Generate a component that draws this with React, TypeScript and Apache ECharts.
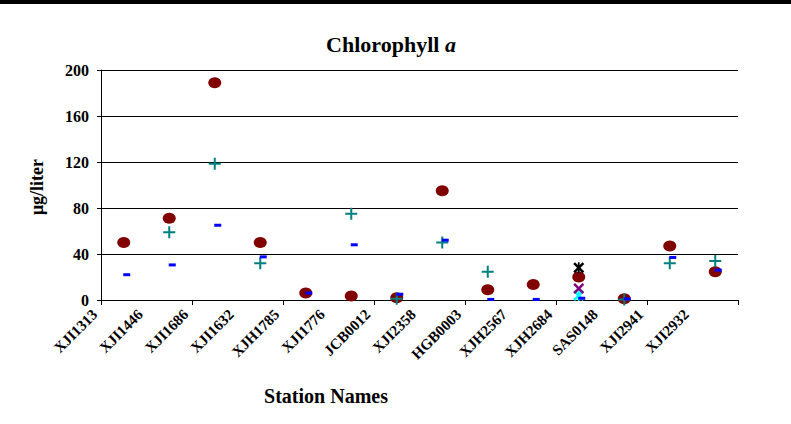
import React, { useEffect, useRef } from "react";
import * as echarts from "echarts";

const stations = ["XJI1313", "XJI1446", "XJI1686", "XJI1632", "XJH1785", "XJI1776", "JCB0012", "XJI2358", "HGB0003", "XJH2567", "XJH2684", "SAS0148", "XJI2941", "XJI2932"];
const circleValues: (number | null)[] = [50, 71, 189, 50, 6, 3.5, 2, 95, 9, 13.5, 20, 1, 47, 24.5];
const plusValues: (number | null)[] = [null, 59, 118.5, 32, null, 75, 1, 50, 24.5, null, null, 0.5, 32, 34];
const dashValues: (number | null)[] = [22, 30.5, 65, 37.5, 6, 48, 5, 52, 0.5, 0.5, 1.5, 1, 37, 26];
const starValues: (number | null)[] = [null, null, null, null, null, null, null, null, null, null, 28, null, null, null];
const xValues: (number | null)[] = [null, null, null, null, null, null, null, null, null, null, 10, null, null, null];
const cyanValues: (number | null)[] = [null, null, null, null, null, null, null, null, null, null, 4, null, null, null];
const yTicks = [0, 40, 80, 120, 160, 200];

const toPairs = (vals: (number | null)[]) =>
  vals.map((v, i) => (v == null ? null : [stations[i], v])).filter((d) => d !== null);

const PLUS = "path://M5,0H7V5H12V7H7V12H5V7H0V5H5Z";
const XMARK = "path://M0,1.6L1.6,0L5,3.4L8.4,0L10,1.6L6.6,5L10,8.4L8.4,10L5,6.6L1.6,10L0,8.4L3.4,5Z";
const STAR = "path://M0,1.6L1.6,0L5,3.4L8.4,0L10,1.6L6.6,5L10,8.4L8.4,10L5,6.6L1.6,10L0,8.4L3.4,5Z M4.2,0H5.8V10H4.2Z";

const FONT = "'Liberation Serif', 'Times New Roman', serif";

export default function App() {
  const ref = useRef<HTMLDivElement>(null);
  useEffect(() => {
    const chart = echarts.init(ref.current!, null, { renderer: "svg" });
    chart.setOption({
      animation: false,
      backgroundColor: "#ffffff",
      title: {
        text: "{b|Chlorophyll }{i|a}",
        left: 386,
        top: 28,
        textAlign: "center",
        textStyle: {
          rich: {
            b: { fontFamily: FONT, fontWeight: "bold", fontSize: 22, color: "#000" },
            i: { fontFamily: FONT, fontWeight: "bold", fontStyle: "italic", fontSize: 22, color: "#000" },
          },
        },
      },
      grid: [
        { left: 101, right: 53, top: 70, bottom: 124 },
        { left: 72, right: 82, top: 70, bottom: 124 },
      ],
      xAxis: [
        {
          type: "category",
          gridIndex: 0,
          data: stations,
          boundaryGap: true,
          axisLine: { lineStyle: { color: "#000", width: 1 } },
          axisTick: { show: true, length: 5, lineStyle: { color: "#000" } },
          axisLabel: { show: false },
        },
        {
          type: "category",
          gridIndex: 1,
          data: stations,
          boundaryGap: true,
          axisLine: { show: false },
          axisTick: { show: false },
          axisLabel: {
            rotate: 45,
            interval: 0,
            margin: 12,
            fontFamily: FONT,
            fontWeight: "bold",
            fontSize: 15,
            color: "#000",
          },
        },
      ],
      yAxis: [
        {
          type: "value",
          gridIndex: 0,
          min: yTicks[0],
          max: yTicks[yTicks.length - 1],
          interval: 40,
          axisLine: { show: true, lineStyle: { color: "#000" } },
          axisTick: { show: true, length: 4, lineStyle: { color: "#000" } },
          splitLine: { show: true, lineStyle: { color: "#000", width: 1 } },
          axisLabel: { margin: 12, fontFamily: FONT, fontWeight: "bold", fontSize: 16, color: "#000" },
        },
        { type: "value", gridIndex: 1, show: false, min: 0, max: 200 },
      ],
      graphic: [
        { type: "rect", left: 0, top: 0, shape: { width: 791, height: 4 }, style: { fill: "#000" } },
        {
          type: "text",
          x: 326,
          y: 396,
          style: {
            text: "Station Names",
            fontFamily: FONT,
            fontWeight: "bold",
            fontSize: 20,
            fill: "#000",
            align: "center",
            verticalAlign: "middle",
          },
        },
        {
          type: "text",
          x: 37,
          y: 187,
          rotation: Math.PI / 2,
          style: {
            text: "μg/liter",
            fontFamily: FONT,
            fontWeight: "bold",
            fontSize: 18,
            fill: "#000",
            align: "center",
            verticalAlign: "middle",
          },
        },
      ],
      series: [
        {
          type: "scatter",
          name: "circle",
          xAxisIndex: 0,
          yAxisIndex: 0,
          symbol: "circle",
          symbolSize: [13, 11],
          itemStyle: { color: "#800000", opacity: 1 },
          data: toPairs(circleValues),
        },
        {
          type: "scatter",
          name: "plus",
          xAxisIndex: 0,
          yAxisIndex: 0,
          symbol: PLUS,
          symbolSize: 12,
          itemStyle: { color: "#008080", opacity: 1 },
          data: toPairs(plusValues),
        },
        {
          type: "scatter",
          name: "cyan",
          xAxisIndex: 0,
          yAxisIndex: 0,
          symbol: STAR,
          symbolSize: 11,
          itemStyle: { color: "#00FFFF", opacity: 1 },
          data: toPairs(cyanValues),
        },
        {
          type: "scatter",
          name: "xmark",
          xAxisIndex: 0,
          yAxisIndex: 0,
          symbol: XMARK,
          symbolSize: 11,
          itemStyle: { color: "#800080", opacity: 1 },
          data: toPairs(xValues),
        },
        {
          type: "scatter",
          name: "dash",
          xAxisIndex: 0,
          yAxisIndex: 0,
          symbol: "rect",
          symbolSize: [7, 3],
          symbolOffset: [3, 0],
          itemStyle: { color: "#0000FF", opacity: 1 },
          data: toPairs(dashValues),
        },
        {
          type: "scatter",
          name: "star",
          xAxisIndex: 0,
          yAxisIndex: 0,
          symbol: STAR,
          symbolSize: 11,
          itemStyle: { color: "#000000", opacity: 1 },
          data: toPairs(starValues),
        },
      ],
    });
    return () => chart.dispose();
  }, []);
  return (
    <div
      ref={ref}
      style={{ position: "fixed", left: 0, top: 0, width: 791, height: 424, background: "#fff" }}
    />
  );
}
